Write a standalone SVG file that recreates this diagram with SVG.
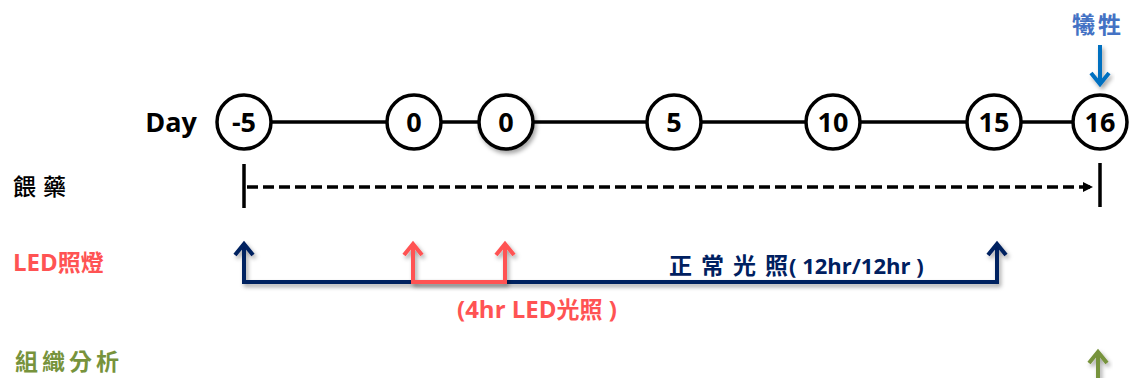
<svg xmlns="http://www.w3.org/2000/svg" width="1132" height="378" viewBox="0 0 1132 378">
<defs>
<filter id="sh" x="-20%" y="-20%" width="150%" height="160%">
<feDropShadow dx="2" dy="3" stdDeviation="2" flood-color="#000" flood-opacity="0.35"/>
</filter>
<marker id="tri" markerWidth="10" markerHeight="10" refX="9" refY="5" orient="auto" markerUnits="userSpaceOnUse">
<path d="M0,0 L10,5 L0,10 Z" fill="#000"/>
</marker>
</defs>
<style>
.axis{stroke:#000;stroke-width:3.5;fill:none}
.node circle{fill:#fff;stroke:#000;stroke-width:3.5}
.num{font-family:"Open Sans","Liberation Sans",sans-serif;font-weight:700;font-size:27px;fill:#000;text-anchor:middle}
.lbl{font-family:"Noto Sans CJK TC","Noto Sans CJK SC",sans-serif;font-size:23px}
.lat{font-family:"Open Sans","Liberation Sans","Noto Sans CJK TC",sans-serif;font-weight:700}
.navy{stroke:#002060;stroke-width:4;fill:none;stroke-linejoin:miter}
.red{stroke:#FF5353;stroke-width:4;fill:none}
</style>

<g id="connectors">
<line class="axis" x1="244" y1="122" x2="1100" y2="122"/>
<line class="axis" x1="244" y1="164" x2="244" y2="208" stroke-width="4"/>
<line class="axis" x1="1100" y1="163" x2="1100" y2="207" stroke-width="4"/>
<line x1="247" y1="187" x2="1092" y2="187" stroke="#000" stroke-width="3.5" stroke-dasharray="11 5" marker-end="url(#tri)"/>
<g filter="url(#sh)">
<path class="navy" d="M244,245 V282 H997 V245"/>
<polyline class="navy" points="235,255 244,244 253,255"/>
<polyline class="navy" points="988,255 997,244 1006,255"/>
</g>
<g filter="url(#sh)">
<path class="red" d="M413,245 V282 H505 V245"/>
<polyline class="red" points="404,255 413,244 422,255"/>
<polyline class="red" points="496,255 505,244 514,255"/>
</g>
<g filter="url(#sh)">
<line x1="1100" y1="45" x2="1100" y2="83" stroke="#0070C0" stroke-width="4"/>
<polyline points="1091,73 1100,84 1109,73" stroke="#0070C0" stroke-width="4" fill="none"/>
</g>
<g filter="url(#sh)">
<line x1="1098" y1="352" x2="1098" y2="380" stroke="#77933C" stroke-width="4"/>
<polyline points="1089,363 1098,352 1107,363" stroke="#77933C" stroke-width="4" fill="none"/>
</g>
</g>

<g id="n-m5" class="node"><circle cx="244" cy="122" r="27"/><text class="num" x="244" y="132">-5</text></g>
<g id="n-0a" class="node"><circle cx="414" cy="122" r="27"/><text class="num" x="414" y="132">0</text></g>
<g id="n-0b" class="node"><circle cx="506" cy="122" r="27" filter="url(#sh)"/><text class="num" x="506" y="132">0</text></g>
<g id="n-5" class="node"><circle cx="674" cy="122" r="27"/><text class="num" x="674" y="132">5</text></g>
<g id="n-10" class="node"><circle cx="833" cy="122" r="27"/><text class="num" x="833" y="132">10</text></g>
<g id="n-15" class="node"><circle cx="994" cy="122" r="27"/><text class="num" x="994" y="132">15</text></g>
<g id="n-16" class="node"><circle cx="1100" cy="122" r="27"/><text class="num" x="1100" y="132">16</text></g>

<g id="labels">
<text class="num" x="171" y="132">Day</text>
<text class="lbl" x="1098" y="33" text-anchor="middle" fill="#4472C4" font-weight="700" letter-spacing="3">犧牲</text>
<text class="lbl" x="13" y="195" fill="#000" font-weight="500" letter-spacing="7">餵藥</text>
<text class="lat" x="13" y="271" font-size="24" fill="#FF5353">LED<tspan class="lbl" font-size="24">照燈</tspan></text>
<text class="lbl" x="15" y="370" fill="#77933C" font-weight="700" letter-spacing="4">組織分析</text>
<text class="lat" x="669" y="274" font-size="22" fill="#002060"><tspan class="lbl" font-size="22" letter-spacing="9">正常光照</tspan><tspan dx="-8">( 12hr/12hr )</tspan></text>
<text class="lat" x="457" y="318" font-size="24" fill="#FF5353">(4hr LED<tspan class="lbl" font-size="24">光照</tspan> )</text>
</g>
</svg>
